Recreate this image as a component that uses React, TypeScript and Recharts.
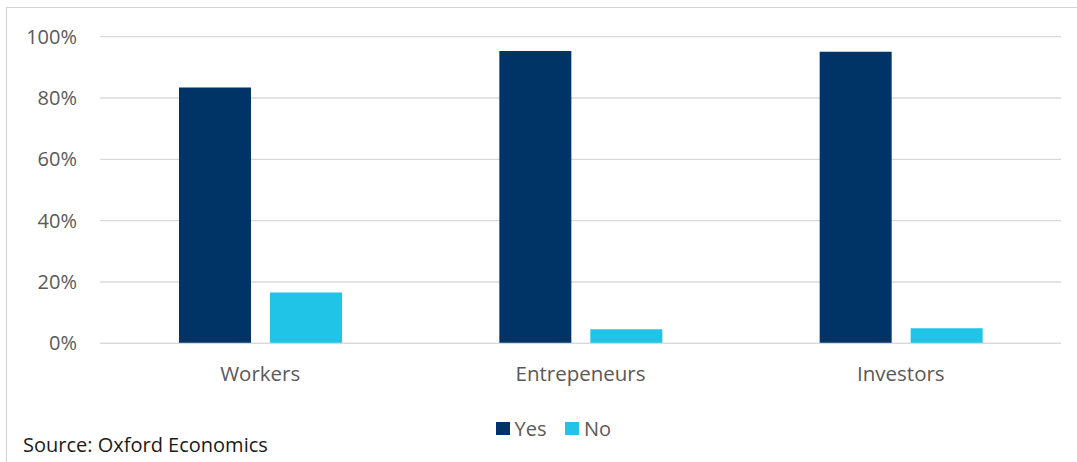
import React from 'react';
import { BarChart, Bar, XAxis, YAxis, CartesianGrid, Legend } from 'recharts';

const categories = ['Workers', 'Entrepeneurs', 'Investors'];
const yesValues = [83.4, 95.3, 95.1];
const noValues = [16.6, 4.6, 4.9];
const yTicks = [0, 20, 40, 60, 80, 100];
const seriesNames = ['Yes', 'No'];
const seriesColors = ['#003366', '#1FC4E6'];

const data = categories.map((c, i) => ({ name: c, Yes: yesValues[i], No: noValues[i] }));

const FONT = '"Open Sans", "Noto Sans", sans-serif';

const LegendContent = () => (
  <div style={{ display: 'flex', alignItems: 'center', fontFamily: FONT, fontSize: 20, color: '#595959' }}>
    {seriesNames.map((n, i) => (
      <div key={n} style={{ display: 'flex', alignItems: 'center', marginRight: 19 }}>
        <div style={{ width: 13.5, height: 13.5, background: seriesColors[i], marginRight: 5 }} />
        <span>{n}</span>
      </div>
    ))}
  </div>
);

export default function App() {
  return (
    <div style={{ position: 'absolute', left: 0, top: 0, width: 1077, height: 462, overflow: 'hidden', background: '#fff' }}>
      <div style={{ position: 'absolute', left: 6, top: 7, width: 1100, height: 500, borderLeft: '1px solid #d4d4d4', borderTop: '1px solid #d4d4d4' }} />
      <div style={{ position: 'absolute', left: 0, top: 0 }}>
        <BarChart
          width={1077}
          height={462}
          data={data}
          margin={{ top: 36.7, right: 16, bottom: 88.7, left: 0 }}
          barSize={72}
          barGap={19}
        >
          <CartesianGrid horizontal vertical={false} stroke="#d9d9d9" strokeWidth={1.3} />
          <XAxis
            dataKey="name"
            height={30}
            axisLine={{ stroke: '#d9d9d9', strokeWidth: 1.3 }}
            tickLine={false}
            tickSize={0}
            tickMargin={23}
            tick={{ fill: '#595959', fontSize: 20.5, fontFamily: FONT }}
            interval={0}
          />
          <YAxis
            width={100}
            domain={[0, 100]}
            ticks={yTicks}
            axisLine={false}
            tickLine={false}
            tickSize={0}
            tickMargin={23}
            tickFormatter={(v: number) => `${v}%`}
            tick={{ fill: '#595959', fontSize: 20, fontFamily: FONT }}
          />
          <Legend
            verticalAlign="middle"
            align="center"
            content={<LegendContent />}
            wrapperStyle={{ left: 496, top: 415, width: 250, height: 27 }}
          />
          <Bar dataKey="Yes" fill={seriesColors[0]} isAnimationActive={false} />
          <Bar dataKey="No" fill={seriesColors[1]} isAnimationActive={false} />
        </BarChart>
      </div>
      <div style={{ position: 'absolute', left: 23, top: 431, fontFamily: FONT, fontSize: 20, color: '#1a1a1a', whiteSpace: 'nowrap' }}>
        Source: Oxford Economics
      </div>
    </div>
  );
}
